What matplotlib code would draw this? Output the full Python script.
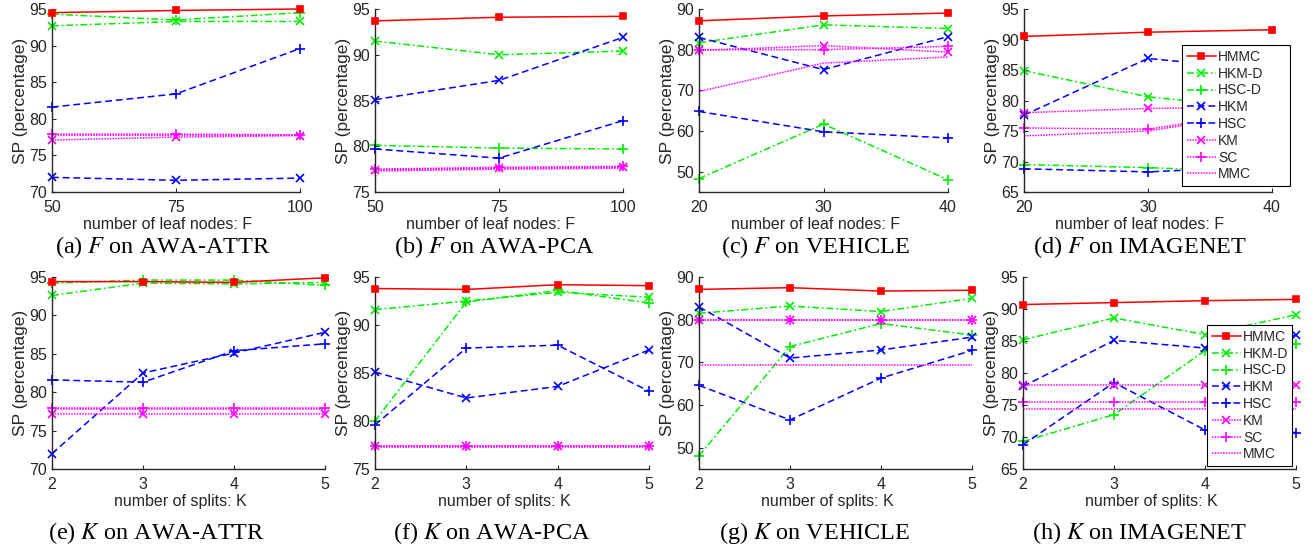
import matplotlib
matplotlib.use("Agg")
import matplotlib.pyplot as plt

# x values per panel
X_LEAF_AWA = [50, 75, 100]
X_LEAF_OTHER = [20, 30, 40]
X_SPLITS = [2, 3, 4, 5]
PANEL_X = [X_LEAF_AWA, X_LEAF_AWA, X_LEAF_OTHER, X_LEAF_OTHER,
           X_SPLITS, X_SPLITS, X_SPLITS, X_SPLITS]

CAPTIONS = [
    ("a", "F", "AWA-ATTR"), ("b", "F", "AWA-PCA"),
    ("c", "F", "VEHICLE"), ("d", "F", "IMAGENET"),
    ("e", "K", "AWA-ATTR"), ("f", "K", "AWA-PCA"),
    ("g", "K", "VEHICLE"), ("h", "K", "IMAGENET"),
]
XLABELS = ["number of leaf nodes: F"] * 4 + ["number of splits: K"] * 4
YLIMS = [(70, 95), (75, 95), (45, 90), (65, 95),
         (70, 95), (75, 95), (45, 90), (65, 95)]
YTICKS = [range(70, 96, 5), range(75, 96, 5), range(50, 91, 10), range(65, 96, 5),
          range(70, 96, 5), range(75, 96, 5), range(50, 91, 10), range(65, 96, 5)]

# SP values, one row per panel (a)..(h)
HMMC = [
    [94.5, 94.8, 95.0],
    [93.7, 94.1, 94.2],
    [87.1, 88.3, 89.0],
    [90.5, 91.2, 91.6],
    [94.4, 94.4, 94.3, 94.9],
    [93.8, 93.7, 94.2, 94.1],
    [87.1, 87.5, 86.7, 86.9],
    [90.7, 91.0, 91.3, 91.5],
]
HKM_D = [
    [92.7, 93.3, 93.3],
    [91.5, 90.0, 90.4],
    [81.7, 86.1, 85.2],
    [84.9, 80.6, 78.6],
    [92.6, 94.2, 94.1, 94.3],
    [91.6, 92.5, 93.4, 92.9],
    [81.5, 83.2, 81.9, 85.0],
    [85.2, 88.6, 86.0, 89.1],
]
HSC_D = [
    [94.3, 93.5, 94.5],
    [80.1, 79.8, 79.7],
    [48.3, 61.7, 48.0],
    [69.5, 69.0, 68.2],
    [94.2, 94.6, 94.6, 93.9],
    [80.0, 92.4, 93.6, 92.3],
    [48.1, 73.7, 79.1, 76.4],
    [69.3, 73.5, 83.5, 84.5],
]
HKM = [
    [72.0, 71.6, 71.9],
    [85.1, 87.2, 91.9],
    [83.0, 75.1, 83.2],
    [77.6, 86.9, 84.9],
    [72.0, 82.5, 85.1, 87.8],
    [85.1, 82.4, 83.6, 87.4],
    [83.0, 71.0, 72.9, 75.9],
    [77.9, 85.1, 83.9, 85.9],
]
HSC = [
    [81.6, 83.4, 89.6],
    [79.7, 78.7, 82.8],
    [64.8, 59.8, 58.3],
    [68.8, 68.3, 69.2],
    [81.6, 81.3, 85.4, 86.3],
    [79.6, 87.6, 87.9, 83.1],
    [64.6, 56.5, 66.3, 72.8],
    [68.8, 78.5, 71.1, 70.7],
]
KM = [
    [77.1, 77.5, 77.7],
    [77.4, 77.6, 77.7],
    [79.8, 81.0, 79.4],
    [78.0, 78.7, 78.9],
    [77.1, 77.1, 77.1, 77.1],
    [77.4, 77.4, 77.4, 77.4],
    [79.9, 79.9, 79.9, 79.9],
    [78.2, 78.2, 78.2, 78.2],
]
SC = [
    [77.9, 77.9, 77.8],
    [77.5, 77.7, 77.8],
    [80.0, 80.0, 80.8],
    [75.5, 75.3, 78.4],
    [77.9, 77.9, 77.9, 77.9],
    [77.4, 77.4, 77.4, 77.4],
    [80.0, 80.0, 80.0, 80.0],
    [75.5, 75.5, 75.5, 75.5],
]
MMC = [
    [77.8, 77.8, 77.8],
    [77.3, 77.5, 77.6],
    [69.7, 76.7, 78.2],
    [74.2, 75.0, 78.2],
    [77.8, 77.8, 77.8, 77.8],
    [77.3, 77.3, 77.3, 77.3],
    [69.4, 69.4, 69.4, 69.4],
    [74.3, 74.3, 74.3, 74.3],
]

RED = "#ff0000"
GREEN = "#00ee00"
BLUE = "#0000ff"
MAGENTA = "#ff00ff"
AXCOL = "#262626"

DASH = (0, (4.5, 2.5))
DASHDOT = (0, (4.5, 1.8, 1.2, 1.8))
DOT = (0, (1.0, 0.8))

SERIES = [
    ("HMMC", HMMC, RED, "-", "s", 4.5),
    ("HKM-D", HKM_D, GREEN, DASHDOT, "x", 5.5),
    ("HSC-D", HSC_D, GREEN, DASHDOT, "+", 7),
    ("HKM", HKM, BLUE, DASH, "x", 5.5),
    ("HSC", HSC, BLUE, DASH, "+", 7),
    ("KM", KM, MAGENTA, DOT, "x", 5.5),
    ("SC", SC, MAGENTA, DOT, "+", 7),
    ("MMC", MMC, MAGENTA, DOT, None, 0),
]

W, H = 1314, 546
# axes rectangles in pixels: left, top, right, bottom
AX_PX = [
    (52, 9, 300, 192), (375, 9, 623, 192), (699, 9, 948, 192), (1024, 9, 1272, 192),
    (52, 277, 325, 469), (375, 277, 649, 469), (699, 277, 972, 469), (1023, 277, 1296, 469),
]
CAP_X = [163, 494, 815, 1140, 156, 492, 815, 1140]
CAP_Y = [247, 247, 247, 247, 533, 533, 533, 533]
# legend boxes in pixels: left, top, right, bottom
LEG_PX = {3: (1182, 45, 1290, 183), 7: (1207, 325, 1292, 462)}

plt.rcParams["mathtext.fontset"] = "stix"
plt.rcParams["font.family"] = "Liberation Sans"

fig = plt.figure(figsize=(W / 100, H / 100), dpi=100)

for i in range(8):
    l, t, r, b = AX_PX[i]
    ax = fig.add_axes([l / W, 1 - b / H, (r - l) / W, (b - t) / H])
    x = PANEL_X[i]
    for name, data, col, ls, mk, ms in SERIES:
        ax.plot(x, data[i], color=col, linestyle=ls, marker=mk, markersize=ms,
                markeredgewidth=1.2, lw=1.1, label=name, clip_on=False,
                markerfacecolor=col if mk == "s" else "none",
                zorder=3 if name == "HMMC" else 2)
    ax.set_xlim(x[0], x[-1])
    ax.set_ylim(*YLIMS[i])
    ax.set_xticks(x)
    ax.set_yticks(list(YTICKS[i]))
    for s in ["top", "right"]:
        ax.spines[s].set_visible(False)
    for s in ["left", "bottom"]:
        ax.spines[s].set_color(AXCOL)
        ax.spines[s].set_linewidth(1.0)
    ax.tick_params(direction="in", length=3, colors=AXCOL, labelsize=11.5)
    ax.tick_params(axis="x", pad=5.5)
    ax.tick_params(axis="y", pad=3.5)
    ax.set_xlabel(XLABELS[i], fontsize=11.5, color=AXCOL, labelpad=1.5)
    ax.xaxis.label.set_x(0.5 - 8 / (r - l))
    ax.set_ylabel("SP (percentage)", fontsize=12.5, color=AXCOL, labelpad=1)

    letter, var, dset = CAPTIONS[i]
    fig.text(CAP_X[i] / W, 1 - CAP_Y[i] / H, f"({letter}) ${var}$ on {dset}",
             ha="center", va="center", fontsize=17.5, family="Liberation Serif")

    if i in LEG_PX:
        ll, lt, lr, lb = LEG_PX[i]
        leg = ax.legend(loc="upper left",
                        bbox_to_anchor=(ll / W, 1 - lb / H, (lr - ll) / W, (lb - lt) / H),
                        bbox_transform=fig.transFigure, mode="expand", fontsize=10,
                        handlelength=2.1, handletextpad=0.15, labelspacing=0.2,
                        borderpad=0.35, borderaxespad=0, fancybox=False, framealpha=1)
        leg.get_frame().set_edgecolor("black")
        leg.get_frame().set_linewidth(0.8)
        for t in leg.get_texts():
            t.set_color(AXCOL)

fig.savefig("out.png", dpi=100)
